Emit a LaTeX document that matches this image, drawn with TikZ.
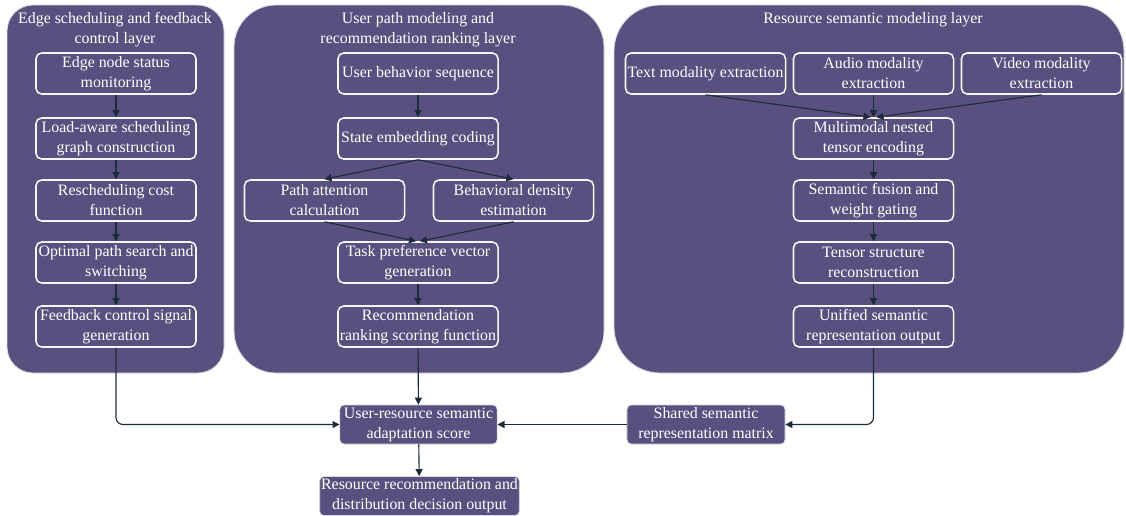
\documentclass[tikz,border=0pt]{standalone}
\usepackage{fontspec}
\setmainfont{Liberation Serif}
\usetikzlibrary{arrows.meta,positioning,calc}
\definecolor{LayerPurple}{HTML}{59507F}
\definecolor{LineNavy}   {HTML}{1C2B3A}
\definecolor{EdgeGray}   {HTML}{DADAE0}
\tikzset{
  layer/.style={fill=LayerPurple,draw=EdgeGray,line width=0.6pt,rounded corners=#1},
  ttl/.style={text=white,font=\fontsize{11.3}{14.2}\selectfont,align=center},
  ibox/.style={rectangle,rounded corners=4pt,draw=white!92!gray,line width=1.1pt,
               minimum width=4cm,minimum height=1.025cm,inner sep=1pt,
               align=center,text=white,font=\fontsize{11.3}{14.2}\selectfont},
  obox/.style={rectangle,rounded corners=3pt,fill=LayerPurple,draw=EdgeGray,
               line width=0.5pt,minimum height=0.975cm,inner sep=1pt,
               align=center,text=white,font=\fontsize{11.3}{14.2}\selectfont},
  arr/.style={-{Triangle[length=5pt,width=5pt]},line width=0.8pt,color=LineNavy},
}

\begin{document}
\begin{tikzpicture}[x=0.025cm,y=-0.025cm]
  \useasboundingbox (0,0) rectangle (1126,515);

  % layer backgrounds
  \path[layer=0.65cm] (7,5) rectangle (224,373);
  \path[layer=1.05cm] (234,5) rectangle (604,373);
  \path[layer=1.15cm] (614,5) rectangle (1124,373);

  \node[ttl] (tedge) at (115,29.5){Edge scheduling and feedback\\control layer};
  \node[ttl] (tuser) at (418,29.5){User path modeling and\\recommendation ranking layer};
  \node[ttl] (tres)  at (873,20){Resource semantic modeling layer};

  % edge scheduling column
  \node[ibox] (mon)  at (116,73.5) {Edge node status\\monitoring};
  \node[ibox] (load) at (116,138.5){Load-aware scheduling\\graph construction};
  \node[ibox] (cost) at (116,200.5){Rescheduling cost\\function};
  \node[ibox] (opt)  at (116,262.5){Optimal path search and\\switching};
  \node[ibox] (fb)   at (116,326.5){Feedback control signal\\generation};

  \draw[arr] (mon) -- (load);
  \draw[arr] (load) -- (cost);
  \draw[arr] (cost) -- (opt);
  \draw[arr] (opt) -- (fb);

  % user path column
  \node[ibox] (seq)   at (418,73.5) {User behavior sequence};
  \node[ibox] (emb)   at (418,138.5){State embedding coding};
  \node[ibox] (att)   at (324.5,200.5){Path attention\\calculation};
  \node[ibox] (dens)  at (513.5,200.5){Behavioral density\\estimation};
  \node[ibox] (pref)  at (418,262.5){Task preference vector\\generation};
  \node[ibox] (rank)  at (418,326.5){Recommendation\\ranking scoring function};

  \draw[arr] (seq) -- (emb);
  \draw[arr] (emb.south) -- (att.north);
  \draw[arr] (emb.south) -- (dens.north);
  \draw[arr] (att.south) -- ($(pref.north)+(-2,0)$);
  \draw[arr] (dens.south) -- ($(pref.north)+(2,0)$);
  \draw[arr] (pref) -- (rank);

  % resource semantic column
  \node[ibox] (txt)   at (705.5,73.5){Text modality extraction};
  \node[ibox] (aud)   at (873.5,73.5){Audio modality\\extraction};
  \node[ibox] (vid)   at (1041.5,73.5){Video modality\\extraction};
  \node[ibox] (nest)  at (873.5,138.5){Multimodal nested\\tensor encoding};
  \node[ibox] (fuse)  at (873.5,200.5){Semantic fusion and\\weight gating};
  \node[ibox] (recon) at (873.5,262.5){Tensor structure\\reconstruction};
  \node[ibox] (uni)   at (873.5,326.5){Unified semantic\\representation output};

  \draw[arr] (txt.south) -- ($(nest.north)+(-3,0)$);
  \draw[arr] (aud) -- (nest);
  \draw[arr] (vid.south) -- ($(nest.north)+(3,0)$);
  \draw[arr] (nest) -- (fuse);
  \draw[arr] (fuse) -- (recon);
  \draw[arr] (recon) -- (uni);

  % fusion and output
  \node[obox,minimum width=3.93cm] (adapt)  at (418.5,424.5){User-resource semantic\\adaptation score};
  \node[obox,minimum width=3.95cm] (shared) at (706,424.5){Shared semantic\\representation matrix};
  \node[obox,minimum width=4.93cm] (final)  at (419.5,496){Resource recommendation and\\distribution decision output};

  \draw[arr,rounded corners=5pt] (fb.south) |- (adapt.west);
  \draw[arr] (rank) -- (adapt);
  \draw[arr,rounded corners=5pt] (uni.south) |- (shared.east);
  \draw[arr] (shared) -- (adapt);
  \draw[arr] (adapt) -- (final);

\end{tikzpicture}
\end{document}
